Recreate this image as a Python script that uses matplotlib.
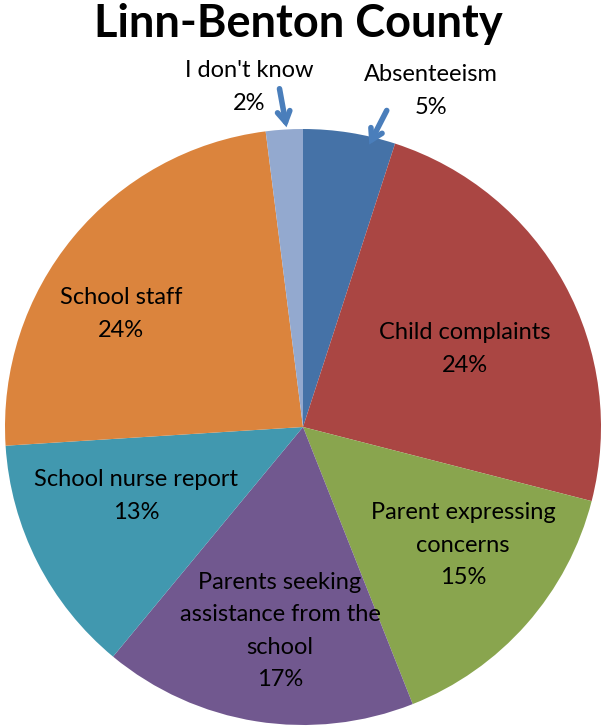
import matplotlib
matplotlib.use("Agg")
import matplotlib.pyplot as plt

# Share of responses per source (percent)
categories = [
    "Absenteeism",
    "Child complaints",
    "Parent expressing\nconcerns",
    "Parents seeking\nassistance from the\nschool",
    "School nurse report",
    "School staff",
    "I don't know",
]
shares = [5, 24, 15, 17, 13, 24, 2]
colors = ["#4572A7", "#AA4643", "#89A54E", "#71588F", "#4198AF", "#DB843D", "#93A9CF"]

W, H = 602, 728
fig = plt.figure(figsize=(W / 100, H / 100), dpi=100)
ax = fig.add_axes([0, 0, 1, 1])

cx, cy, r = 303, H - 427, 298
ax.pie(shares, colors=colors, startangle=90, counterclock=False,
       center=(cx, cy), radius=r, frame=True,
       wedgeprops=dict(linewidth=0))
ax.set_xlim(0, W)
ax.set_ylim(0, H)
ax.set_aspect("equal")
ax.axis("off")

font = "Lato"
# label anchor points in pixel coordinates (top-left origin)
label_pos = [(431, 91), (465, 349), (463, 545), (280, 631), (136, 496), (121, 314), (249, 87)]
for name, val, (x, y) in zip(categories, shares, label_pos):
    ax.text(x, H - y, f"{name}\n{val}%", ha="center", va="center",
            fontsize=17, family=font, linespacing=1.68, color="black")

# open-headed callout arrows for the two thin slices
arrow_kw = dict(arrowstyle="->,head_length=0.75,head_width=0.45", color="#4A7EBB",
                lw=4, capstyle="round", joinstyle="miter")
ax.annotate("", xy=(287, H - 130), xytext=(279, H - 86), arrowprops=arrow_kw)
ax.annotate("", xy=(368, H - 147), xytext=(388, H - 108), arrowprops=arrow_kw)

fig.text(0.495, 1 - 24 / H, "Linn-Benton County", ha="center", va="center",
         fontsize=32.5, fontweight="bold", family=font)

fig.savefig("out.png", dpi=100)
